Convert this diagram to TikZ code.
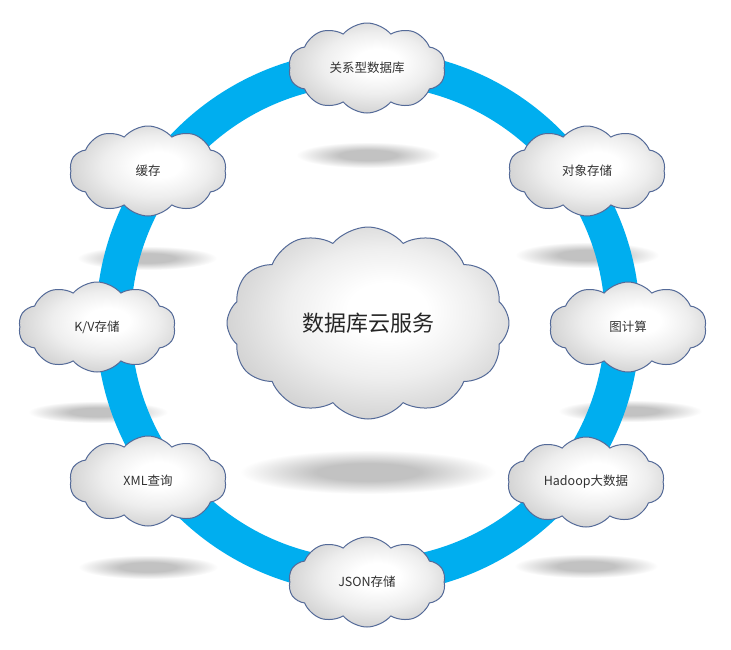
\documentclass[tikz,border=0pt]{standalone}
\usepackage{fontspec}
\newfontfamily\cjk{Noto Sans CJK SC}
\usetikzlibrary{shapes.symbols}
\definecolor{ringblue}{RGB}{0,174,239}
\definecolor{cloudedge}{RGB}{84,106,152}
\definecolor{cloudmid}{RGB}{238,238,238}
\definecolor{cloudgray}{RGB}{204,204,204}
\definecolor{shd}{RGB}{194,194,194}
\definecolor{textgray}{RGB}{50,50,50}
\pgfdeclareradialshading{softshadow}{\pgfpointorigin}{color(0bp)=(shd); color(10bp)=(shd); color(25bp)=(white); color(50bp)=(white)}
\pgfdeclareradialshading{cloudfill}{\pgfpoint{4bp}{4bp}}{color(0bp)=(white); color(7bp)=(white); color(17bp)=(cloudmid); color(30bp)=(cloudgray); color(50bp)=(cloudgray)}
\tikzset{
  cloudbox/.style={cloud, cloud puffs=10, cloud puff arc=100, cloud ignores aspect,
    draw=cloudedge, line width=1pt, shading=cloudfill,
    minimum width=157pt, minimum height=90pt, inner sep=0pt,
    font=\cjk\fontsize{12.5}{15}\selectfont, text=textgray},
  bigcloud/.style={cloudbox, cloud puffs=12, minimum width=282pt, minimum height=192pt,
    font=\cjk\fontsize{22}{26}\selectfont, text=black!85},
  shadowblob/.style={shading=softshadow}
}
\begin{document}
\begin{tikzpicture}[x=1pt,y=-1pt]
\useasboundingbox[fill=white] (0,0) rectangle (731,649);
% shadows
\shade[shadowblob] (368,155) ellipse [x radius=72pt, y radius=13pt];
\shade[shadowblob] (147,258) ellipse [x radius=70pt, y radius=12pt];
\shade[shadowblob] (587,255) ellipse [x radius=72pt, y radius=13pt];
\shade[shadowblob] (98,412) ellipse [x radius=70pt, y radius=11pt];
\shade[shadowblob] (630,411) ellipse [x radius=72pt, y radius=11pt];
\shade[shadowblob] (148,567) ellipse [x radius=70pt, y radius=12pt];
\shade[shadowblob] (586,566) ellipse [x radius=72pt, y radius=12pt];
\shade[shadowblob] (368,472) ellipse [x radius=128pt, y radius=22pt];
% ring
\coordinate (c) at (368,322);
\draw[ringblue, line width=35pt] (c) circle [radius=254.5pt];
% clouds
\node[bigcloud] (center) at (368,323) {数据库云服务};
\node[cloudbox] (rel) at (367,68) {关系型数据库};
\node[cloudbox] (obj) at (587,171) {对象存储};
\node[cloudbox] (graph) at (628,327) {图计算};
\node[cloudbox] (hadoop) at (586,482) {Hadoop大数据};
\node[cloudbox] (json) at (367,582) {JSON存储};
\node[cloudbox] (xml) at (148,481) {XML查询};
\node[cloudbox] (kv) at (97,327) {K/V存储};
\node[cloudbox] (cache) at (148,171) {缓存};
\end{tikzpicture}
\end{document}
